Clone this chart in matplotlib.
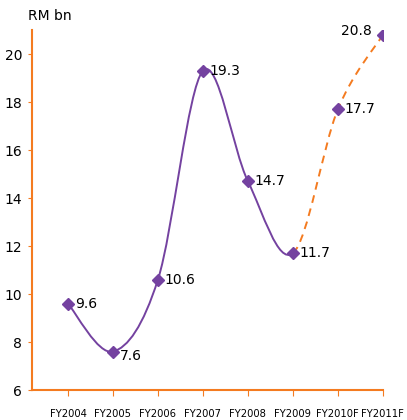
import matplotlib
matplotlib.use("Agg")
import matplotlib.pyplot as plt
from matplotlib.path import Path
from matplotlib.patches import PathPatch
import numpy as np

years = ["FY2004", "FY2005", "FY2006", "FY2007", "FY2008", "FY2009", "FY2010F", "FY2011F"]
values = [9.6, 7.6, 10.6, 19.3, 14.7, 11.7, 17.7, 20.8]
n_actual = 6  # FY2004..FY2009 are actuals, rest forecast

purple = "#7442A0"
orange = "#F47B20"

fig = plt.figure(figsize=(4.07, 4.20), dpi=100)
ax = fig.add_axes([0.0786, 0.0714, 0.862, 0.857])

x = np.arange(len(years))
y = np.array(values)


def bezier_segments(xs, ys):
    # catmull-rom style control points, like excel's smoothed line
    segs = []
    n = len(xs)
    for i in range(n - 1):
        p0 = np.array([xs[max(i - 1, 0)], ys[max(i - 1, 0)]])
        p1 = np.array([xs[i], ys[i]])
        p2 = np.array([xs[i + 1], ys[i + 1]])
        p3 = np.array([xs[min(i + 2, n - 1)], ys[min(i + 2, n - 1)]])
        c1 = p1 + (p2 - p0) / 6
        c2 = p2 - (p3 - p1) / 6
        segs.append((p1, c1, c2, p2))
    return segs


segs = bezier_segments(x, y)


def make_path(seglist):
    verts = [seglist[0][0]]
    codes = [Path.MOVETO]
    for p1, c1, c2, p2 in seglist:
        verts += [c1, c2, p2]
        codes += [Path.CURVE4] * 3
    return Path(verts, codes)


ax.add_patch(PathPatch(make_path(segs[:n_actual - 1]), fill=False,
                       edgecolor=purple, lw=1.4, zorder=2))
ax.add_patch(PathPatch(make_path(segs[n_actual - 1:]), fill=False,
                       edgecolor=orange, lw=1.4, ls=(0, (4, 3)), zorder=2))

ax.plot(x, y, ls="none", marker="D", ms=6.5, color=purple, zorder=3)

for i, v in enumerate(values):
    if i == len(values) - 1:
        ax.annotate(f"{v}", (i, v), xytext=(-8, 3), textcoords="offset points",
                    ha="right", va="center", fontsize=10)
    elif i == 1:
        ax.annotate(f"{v}", (i, v), xytext=(5, -3), textcoords="offset points",
                    ha="left", va="center", fontsize=10)
    else:
        ax.annotate(f"{v}", (i, v), xytext=(5, 0), textcoords="offset points",
                    ha="left", va="center", fontsize=10)

ax.set_xlim(-0.8, 7.0)
ax.set_ylim(6, 21)
ax.set_yticks([6, 8, 10, 12, 14, 16, 18, 20])
ax.set_xticks(x)
ax.set_xticklabels(years, fontsize=7.2)
ax.tick_params(axis="y", labelsize=10, length=3, color=orange, pad=4)
ax.tick_params(axis="x", length=4, color=orange, pad=10)

for s in ["top", "right"]:
    ax.spines[s].set_visible(False)
for s in ["left", "bottom"]:
    ax.spines[s].set_color(orange)
    ax.spines[s].set_linewidth(1.5)

fig.text(0.069, 0.962, "RM bn", fontsize=10, ha="left", va="center")

fig.savefig("out.png", dpi=100)
